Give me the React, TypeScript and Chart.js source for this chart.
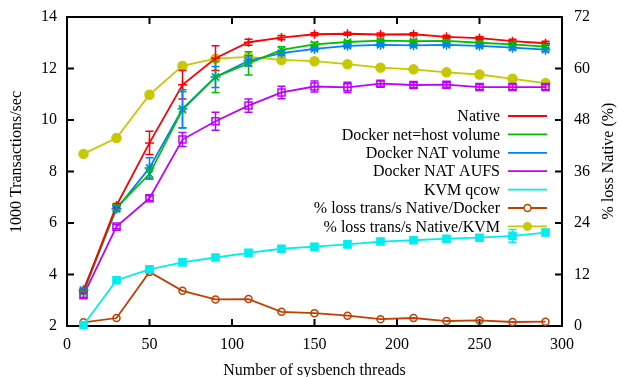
import React, { useEffect, useRef } from "react";
import { Chart, registerables } from "chart.js";

Chart.register(...registerables);

const threads = [10, 30, 50, 70, 90, 110, 130, 150, 170, 190, 210, 230, 250, 270, 290];

const nativeTps = [3.37, 6.68, 9.11, 11.37, 12.4, 13.02, 13.2, 13.33, 13.35, 13.32, 13.33, 13.23, 13.18, 13.06, 12.98];
const nativeErr = [0.08, 0.08, 0.45, 0.55, 0.48, 0.12, 0.08, 0.06, 0.06, 0.06, 0.06, 0.06, 0.06, 0.08, 0.08];

const hostVolTps = [3.3, 6.6, 7.9, 10.4, 11.67, 12.2, 12.72, 12.94, 13.03, 13.08, 13.06, 13.07, 13.0, 12.94, 12.85];
const hostVolErr = [0.06, 0.1, 0.2, 0.7, 0.6, 0.45, 0.12, 0.08, 0.06, 0.06, 0.06, 0.06, 0.06, 0.08, 0.08];

const natVolTps = [3.4, 6.55, 8.14, 10.43, 11.67, 12.3, 12.6, 12.76, 12.88, 12.92, 12.9, 12.92, 12.88, 12.81, 12.73];
const natVolErr = [0.08, 0.1, 0.39, 0.74, 0.41, 0.2, 0.08, 0.06, 0.06, 0.06, 0.06, 0.06, 0.06, 0.08, 0.08];

const natAufsTps = [3.2, 5.86, 6.96, 9.24, 9.95, 10.56, 11.07, 11.3, 11.27, 11.41, 11.36, 11.37, 11.28, 11.28, 11.28];
const natAufsErr = [0.08, 0.08, 0.1, 0.27, 0.35, 0.26, 0.24, 0.21, 0.2, 0.1, 0.1, 0.1, 0.1, 0.1, 0.1];

const kvmTps = [2.04, 3.78, 4.2, 4.47, 4.66, 4.84, 5.0, 5.08, 5.17, 5.28, 5.33, 5.39, 5.43, 5.5, 5.63];
const kvmErr = [0.03, 0.05, 0.05, 0.06, 0.06, 0.06, 0.08, 0.08, 0.1, 0.08, 0.1, 0.1, 0.1, 0.25, 0.12];

const lossDocker = [0.86, 1.86, 12.6, 8.2, 6.2, 6.27, 3.3, 3.0, 2.4, 1.6, 1.86, 1.16, 1.3, 0.93, 1.0];
const lossKvm = [40.1, 43.8, 53.9, 60.6, 62.3, 62.7, 62.0, 61.7, 61.0, 60.2, 59.8, 59.1, 58.6, 57.6, 56.6];

const xTicks = [0, 50, 100, 150, 200, 250, 300];
const yTicks = [2, 4, 6, 8, 10, 12, 14];
const y2Ticks = [0, 12, 24, 36, 48, 60, 72];

const xTitle = "Number of sysbench threads";
const yTitle = "1000 Transactions/sec";
const y2Title = "% loss Native (%)";

const FONT = "'Liberation Serif', 'DejaVu Serif', serif";

const pts = (ys: number[]) => threads.map((x, i) => ({ x, y: ys[i] }));

const errorBarPlugin = {
  id: "errorBars",
  afterDatasetsDraw(chart: any) {
    const { ctx } = chart;
    const xs = chart.scales.x;
    chart.data.datasets.forEach((ds: any) => {
      if (!ds.errors) return;
      const ys = chart.scales[ds.yAxisID || "y"];
      ctx.save();
      ctx.strokeStyle = ds.borderColor;
      ctx.lineWidth = 1.5;
      ds.data.forEach((p: any, i: number) => {
        const e = ds.errors[i];
        const px = xs.getPixelForValue(p.x);
        const y1 = ys.getPixelForValue(p.y - e);
        const y2 = ys.getPixelForValue(p.y + e);
        ctx.beginPath();
        ctx.moveTo(px, y1);
        ctx.lineTo(px, y2);
        ctx.moveTo(px - 4, y1);
        ctx.lineTo(px + 4, y1);
        ctx.moveTo(px - 4, y2);
        ctx.lineTo(px + 4, y2);
        ctx.stroke();
      });
      ctx.restore();
    });
  },
};

const framePlugin = {
  id: "frame",
  beforeDatasetsDraw(chart: any) {
    const { ctx, chartArea: a } = chart;
    const xs = chart.scales.x;
    const ys = chart.scales.y;
    const y2s = chart.scales.y2;
    ctx.save();
    ctx.strokeStyle = "#000";
    ctx.lineWidth = 2;
    ctx.strokeRect(a.left, a.top, a.right - a.left, a.bottom - a.top);
    const L = 7;
    ctx.beginPath();
    xTicks.forEach((t) => {
      const px = xs.getPixelForValue(t);
      ctx.moveTo(px, a.bottom);
      ctx.lineTo(px, a.bottom - L);
      ctx.moveTo(px, a.top);
      ctx.lineTo(px, a.top + L);
    });
    yTicks.forEach((t) => {
      const py = ys.getPixelForValue(t);
      ctx.moveTo(a.left, py);
      ctx.lineTo(a.left + L, py);
    });
    y2Ticks.forEach((t) => {
      const py = y2s.getPixelForValue(t);
      ctx.moveTo(a.right, py);
      ctx.lineTo(a.right - L, py);
    });
    ctx.stroke();
    ctx.restore();
  },
  afterDraw(chart: any) {
    const { ctx, chartArea: a } = chart;
    ctx.save();
    ctx.fillStyle = "#000";
    ctx.font = `16px ${FONT}`;
    ctx.textAlign = "center";
    ctx.textBaseline = "middle";
    ctx.fillText(xTitle, (a.left + a.right) / 2, 371);
    ctx.save();
    ctx.translate(17, 162);
    ctx.rotate(-Math.PI / 2);
    ctx.fillText(yTitle, 0, 0);
    ctx.restore();
    ctx.save();
    ctx.translate(609, 161);
    ctx.rotate(-Math.PI / 2);
    ctx.fillText(y2Title, 0, 0);
    ctx.restore();
    ctx.restore();
  },
};

const legendPlugin = {
  id: "customLegend",
  afterDraw(chart: any) {
    const { ctx, chartArea: a } = chart;
    const textRight = a.right - 62;
    const lineL = a.right - 54;
    const lineR = a.right - 15;
    const top = 116;
    const step = 18.4;
    ctx.save();
    ctx.font = `16px ${FONT}`;
    ctx.textAlign = "right";
    ctx.textBaseline = "middle";
    chart.data.datasets.forEach((ds: any, i: number) => {
      const y = top + i * step;
      ctx.fillStyle = "#000";
      ctx.fillText(ds.label, textRight, y + 1);
      ctx.strokeStyle = ds.borderColor;
      ctx.lineWidth = 1.8;
      ctx.beginPath();
      ctx.moveTo(lineL, y);
      ctx.lineTo(lineR, y);
      ctx.stroke();
      if (ds.legendMarker) {
        const cx = (lineL + lineR) / 2;
        ctx.beginPath();
        ctx.arc(cx, y, ds.pointRadius, 0, Math.PI * 2);
        if (ds.legendMarker === "filled") {
          ctx.fillStyle = ds.borderColor;
          ctx.fill();
        } else {
          ctx.fillStyle = "#fff";
          ctx.fill();
          ctx.lineWidth = 1.5;
          ctx.stroke();
        }
      }
    });
    ctx.restore();
  },
};

export default function App() {
  const ref = useRef<HTMLCanvasElement | null>(null);

  useEffect(() => {
    if (!ref.current) return;
    Chart.defaults.font.family = FONT;
    const base = {
      borderWidth: 1.8,
      pointBorderWidth: 1.5,
      clip: false as any,
      tension: 0,
    };
    const chart = new Chart(ref.current, {
      type: "line",
      data: {
        datasets: [
          { ...base, label: "Native", data: pts(nativeTps), errors: nativeErr, borderColor: "#ff0000", backgroundColor: "#ff0000", pointStyle: "cross", pointRadius: 4.5, yAxisID: "y" } as any,
          { ...base, label: "Docker net=host volume", data: pts(hostVolTps), errors: hostVolErr, borderColor: "#00c000", backgroundColor: "#00c000", pointStyle: "crossRot", pointRadius: 5, yAxisID: "y" } as any,
          { ...base, label: "Docker NAT volume", data: pts(natVolTps), errors: natVolErr, borderColor: "#0080ff", backgroundColor: "#0080ff", pointStyle: "star", pointRadius: 5, yAxisID: "y" } as any,
          { ...base, label: "Docker NAT AUFS", data: pts(natAufsTps), errors: natAufsErr, borderColor: "#c000ff", backgroundColor: "rgba(0,0,0,0)", pointStyle: "rect", pointRadius: 5, yAxisID: "y" } as any,
          { ...base, label: "KVM qcow", data: pts(kvmTps), errors: kvmErr, borderColor: "#00eeee", backgroundColor: "#00eeee", pointStyle: "rect", pointRadius: 5, yAxisID: "y" } as any,
          { ...base, label: "% loss trans/s Native/Docker", data: pts(lossDocker), borderColor: "#c04000", backgroundColor: "rgba(0,0,0,0)", pointStyle: "circle", pointRadius: 3.5, yAxisID: "y2", legendMarker: "open" } as any,
          { ...base, label: "% loss trans/s Native/KVM", data: pts(lossKvm), borderColor: "#c8c800", backgroundColor: "#c8c800", pointStyle: "circle", pointRadius: 4.5, yAxisID: "y2", legendMarker: "filled" } as any,
        ],
      },
      options: {
        responsive: false,
        animation: false,
        layout: { padding: { top: 17, left: 0, right: 0, bottom: 0 } },
        plugins: { legend: { display: false }, tooltip: { enabled: false } },
        scales: {
          x: {
            type: "linear",
            min: 0,
            max: 300,
            afterBuildTicks: (s: any) => { s.ticks = xTicks.map((v) => ({ value: v })); },
            afterFit: (s: any) => { s.height = 51; },
            grid: { display: false },
            border: { display: false },
            ticks: { color: "#000", font: { size: 16, family: FONT }, padding: 1, maxRotation: 0 },
          },
          y: {
            type: "linear",
            position: "left",
            min: 2,
            max: 14,
            afterBuildTicks: (s: any) => { s.ticks = yTicks.map((v) => ({ value: v })); },
            afterFit: (s: any) => { s.width = 67; },
            grid: { display: false },
            border: { display: false },
            ticks: { color: "#000", font: { size: 16, family: FONT }, padding: 2 },
          },
          y2: {
            type: "linear",
            position: "right",
            min: 0,
            max: 72,
            afterBuildTicks: (s: any) => { s.ticks = y2Ticks.map((v) => ({ value: v })); },
            afterFit: (s: any) => { s.width = 56; },
            grid: { display: false },
            border: { display: false },
            ticks: { color: "#000", font: { size: 16, family: FONT }, padding: 4 },
          },
        },
      } as any,
      plugins: [framePlugin, errorBarPlugin, legendPlugin],
    });
    return () => chart.destroy();
  }, []);

  return (
    <div style={{ position: "absolute", left: 0, top: 0, width: 618, height: 377, background: "#fff" }}>
      <canvas ref={ref} width={618} height={377} />
    </div>
  );
}
